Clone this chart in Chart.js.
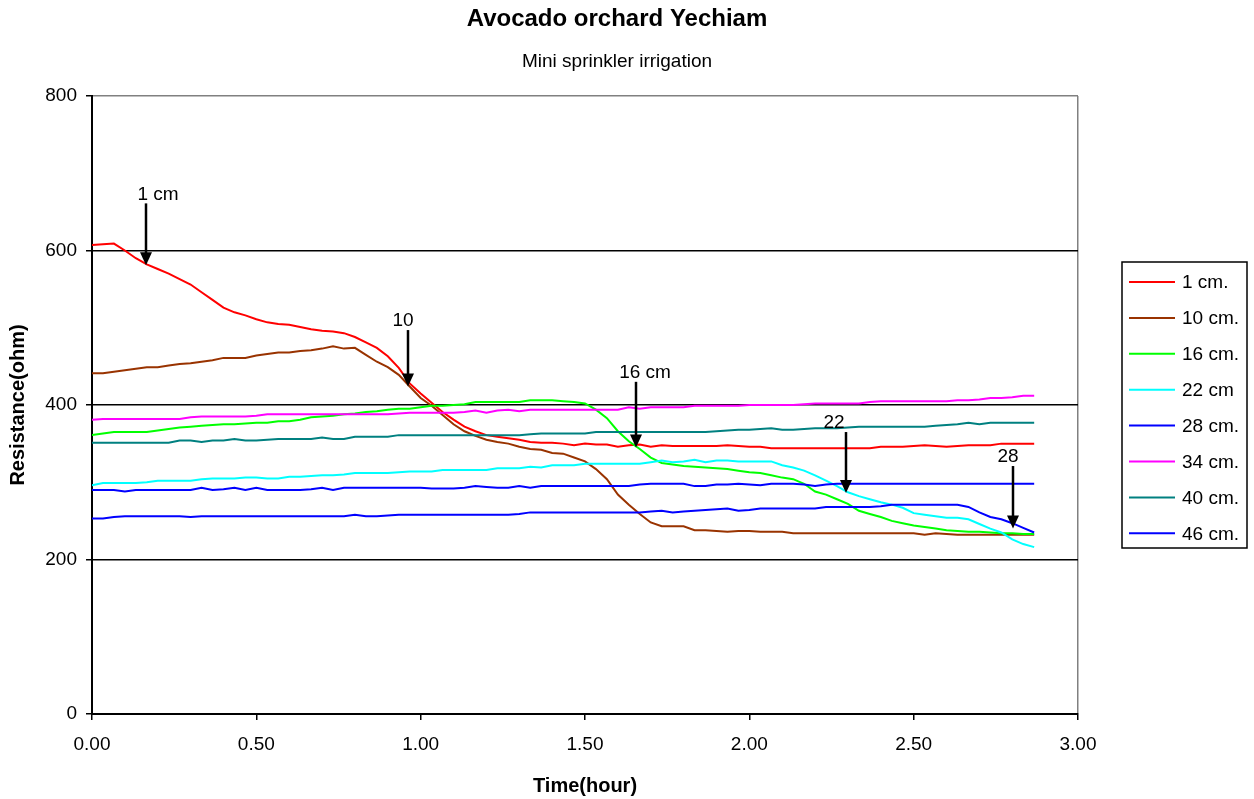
<!DOCTYPE html>
<html>
<head>
<meta charset="utf-8">
<title>Avocado orchard Yechiam</title>
<script src="https://cdn.jsdelivr.net/npm/chart.js@4.4.1/dist/chart.umd.min.js"></script>
<style>
  html, body { margin: 0; padding: 0; background: #fff; }
  #wrap { width: 1254px; height: 799px; }
</style>
</head>
<body>
<div id="wrap"><canvas id="chart" width="1254" height="799"></canvas></div>
<script>
// Sensor readings, one every 2 minutes
const minutes = [
  0, 2, 4, 6, 8, 10, 12, 14, 16, 18,
  20, 22, 24, 26, 28, 30, 32, 34, 36, 38,
  40, 42, 44, 46, 48, 50, 52, 54, 56, 58,
  60, 62, 64, 66, 68, 70, 72, 74, 76, 78,
  80, 82, 84, 86, 88, 90, 92, 94, 96, 98,
  100, 102, 104, 106, 108, 110, 112, 114, 116, 118,
  120, 122, 124, 126, 128, 130, 132, 134, 136, 138,
  140, 142, 144, 146, 148, 150, 152, 154, 156, 158,
  160, 162, 164, 166, 168, 170, 172
];

const depthLabels = ['1 cm.', '10 cm.', '16 cm.', '22 cm', '28 cm.', '34 cm.', '40 cm.', '46 cm.'];
const depthColors = ['#ff0000', '#993300', '#00ff00', '#00ffff', '#0000ff', '#ff00ff', '#008080', '#0000ff'];

const depth1 = [
  607, 608, 609, 600, 590, 582, 576, 570, 563, 556,
  546, 536, 526, 520, 516, 511, 507, 505, 504, 501,
  498, 496, 495, 493, 488, 481, 474, 463, 448, 428,
  415, 403, 391, 381, 372, 366, 361, 359, 357, 355,
  352, 351, 351, 350, 348, 350, 349, 349, 346, 348,
  349, 346, 348, 347, 347, 347, 347, 347, 348, 347,
  346, 346, 344, 344, 344, 344, 344, 344, 344, 344,
  344, 344, 346, 346, 346, 347, 348, 347, 346, 347,
  348, 348, 348, 350, 350, 350, 350
];
const depth10 = [
  441, 441, 443, 445, 447, 449, 449, 451, 453, 454,
  456, 458, 461, 461, 461, 464, 466, 468, 468, 470,
  471, 473, 476, 473, 474, 465, 456, 449, 439, 424,
  409, 399, 387, 375, 366, 360, 355, 352, 350, 346,
  343, 342, 338, 337, 332, 327, 317, 304, 284, 271,
  259, 248, 243, 243, 243, 238, 238, 237, 236, 237,
  237, 236, 236, 236, 234, 234, 234, 234, 234, 234,
  234, 234, 234, 234, 234, 234, 232, 234, 233, 232,
  232, 232, 232, 232, 232, 232, 232
];
const depth16 = [
  361, 363, 365, 365, 365, 365, 367, 369, 371, 372,
  373, 374, 375, 375, 376, 377, 377, 379, 379, 381,
  384, 385, 386, 388, 389, 391, 392, 394, 395, 395,
  397, 399, 399, 400, 401, 404, 404, 404, 404, 404,
  406, 406, 406, 405, 404, 402, 394, 383, 366, 353,
  343, 332, 325, 323, 321, 320, 319, 318, 317, 315,
  313, 312, 309, 306, 304, 298, 288, 284, 278, 272,
  263, 259, 255, 250, 247, 244, 242, 240, 238, 237,
  236, 236, 235, 234, 234, 233, 233
];
const depth22 = [
  296, 299, 299, 299, 299, 300, 302, 302, 302, 302,
  304, 305, 305, 305, 306, 306, 305, 305, 307, 307,
  308, 309, 309, 310, 312, 312, 312, 312, 313, 314,
  314, 314, 316, 316, 316, 316, 316, 318, 318, 318,
  320, 319, 322, 322, 322, 324, 324, 324, 324, 324,
  324, 326, 328, 326, 327, 329, 326, 328, 328, 327,
  327, 327, 327, 322, 319, 315, 309, 302, 295, 287,
  282, 278, 274, 271, 267, 260, 258, 256, 254, 254,
  252, 246, 240, 235, 226, 220, 216
];
const depth28 = [
  253, 253, 255, 256, 256, 256, 256, 256, 256, 255,
  256, 256, 256, 256, 256, 256, 256, 256, 256, 256,
  256, 256, 256, 256, 258, 256, 256, 257, 258, 258,
  258, 258, 258, 258, 258, 258, 258, 258, 258, 259,
  261, 261, 261, 261, 261, 261, 261, 261, 261, 261,
  261, 262, 263, 261, 262, 263, 264, 265, 266, 263,
  264, 266, 266, 266, 266, 266, 266, 268, 268, 268,
  268, 268, 269, 271, 271, 271, 271, 271, 271, 271,
  268, 261, 255, 252, 247, 241, 235
];
const depth34 = [
  381, 382, 382, 382, 382, 382, 382, 382, 382, 384,
  385, 385, 385, 385, 385, 386, 388, 388, 388, 388,
  388, 388, 388, 388, 388, 388, 388, 388, 389, 390,
  390, 390, 390, 390, 391, 393, 390, 393, 394, 392,
  394, 394, 394, 394, 394, 394, 394, 394, 394, 397,
  395, 397, 397, 397, 397, 399, 399, 399, 399, 399,
  400, 400, 400, 400, 400, 401, 402, 402, 402, 402,
  402, 404, 405, 405, 405, 405, 405, 405, 405, 406,
  406, 407, 409, 409, 410, 412, 412
];
const depth40 = [
  351, 351, 351, 351, 351, 351, 351, 351, 354, 354,
  352, 354, 354, 356, 354, 354, 355, 356, 356, 356,
  356, 358, 356, 356, 359, 359, 359, 359, 361, 361,
  361, 361, 361, 361, 361, 361, 361, 361, 361, 361,
  362, 363, 363, 363, 363, 363, 365, 365, 365, 365,
  365, 365, 365, 365, 365, 365, 365, 366, 367, 368,
  368, 369, 370, 368, 368, 369, 370, 370, 370, 371,
  372, 372, 372, 372, 372, 372, 372, 373, 374, 375,
  377, 375, 377, 377, 377, 377, 377
];
const depth46 = [
  290, 290, 290, 288, 290, 290, 290, 290, 290, 290,
  293, 290, 291, 293, 290, 293, 290, 290, 290, 290,
  291, 293, 290, 293, 293, 293, 293, 293, 293, 293,
  293, 292, 292, 292, 293, 295, 294, 293, 293, 295,
  293, 295, 295, 295, 295, 295, 295, 295, 295, 295,
  297, 298, 298, 298, 298, 295, 295, 297, 297, 298,
  297, 296, 298, 298, 298, 297, 295, 297, 298, 298,
  298, 298, 298, 298, 298, 298, 298, 298, 298, 298,
  298, 298, 298, 298, 298, 298, 298
];

// Wetting front arrows: time (h), arrow top and tip (ohm)
const arrowLabels = ['1 cm', '10', '16 cm', '22', '28'];
const arrowTimes = [0.164, 0.96, 1.654, 2.294, 2.803];
const arrowTops = [661, 497, 430, 365, 321];
const arrowTips = [581, 424, 345, 286, 240];

const xTicks = [0, 0.5, 1, 1.5, 2, 2.5, 3];
const yTicks = [0, 200, 400, 600, 800];

const allDepths = [depth1, depth10, depth16, depth22, depth28, depth34, depth40, depth46];

const FONT = '"Liberation Sans", Arial, sans-serif';
Chart.defaults.font.family = FONT;
Chart.defaults.color = '#000';

// label shift (px) of each arrow caption relative to its shaft
const captionShift = [12, -5, 9, -12, -5];

const arrowPlugin = {
  id: 'arrows',
  afterDatasetsDraw(chart) {
    const { ctx, scales: { x, y } } = chart;
    ctx.save();
    ctx.strokeStyle = '#000';
    ctx.fillStyle = '#000';
    ctx.lineWidth = 2.5;
    ctx.font = '19px ' + FONT;
    ctx.textAlign = 'center';
    ctx.textBaseline = 'middle';
    arrowLabels.forEach((label, i) => {
      const px = Math.round(x.getPixelForValue(arrowTimes[i]));
      const top = y.getPixelForValue(arrowTops[i]);
      const tip = y.getPixelForValue(arrowTips[i]);
      ctx.beginPath();
      ctx.moveTo(px, top);
      ctx.lineTo(px, tip - 10);
      ctx.stroke();
      ctx.beginPath();
      ctx.moveTo(px, tip);
      ctx.lineTo(px - 6, tip - 13);
      ctx.lineTo(px + 6, tip - 13);
      ctx.closePath();
      ctx.fill();
      ctx.fillText(label, px + captionShift[i], top - 9);
    });
    ctx.restore();
  }
};

const titlePlugin = {
  id: 'titles',
  afterDraw(chart) {
    const { ctx } = chart;
    ctx.save();
    ctx.fillStyle = '#000';
    ctx.textAlign = 'center';
    ctx.textBaseline = 'middle';
    ctx.font = 'bold 24px ' + FONT;
    ctx.fillText('Avocado orchard Yechiam', 617, 19);
    ctx.font = '19px ' + FONT;
    ctx.fillText('Mini sprinkler irrigation', 617, 62);
    ctx.restore();
  }
};

const legendPlugin = {
  id: 'boxLegend',
  afterDraw(chart) {
    const { ctx, chartArea } = chart;
    const left = chartArea.right + 44;
    const top = 262;
    const w = 125, h = 286, step = 35.9;
    ctx.save();
    ctx.strokeStyle = '#000';
    ctx.lineWidth = 1.5;
    ctx.strokeRect(left, top, w, h);
    ctx.font = '19px ' + FONT;
    ctx.textBaseline = 'middle';
    ctx.textAlign = 'left';
    chart.data.datasets.forEach((ds, i) => {
      const cy = top + 20 + i * step;
      ctx.strokeStyle = ds.borderColor;
      ctx.lineWidth = 2;
      ctx.beginPath();
      ctx.moveTo(left + 7, cy);
      ctx.lineTo(left + 53, cy);
      ctx.stroke();
      ctx.fillStyle = '#000';
      ctx.fillText(ds.label, left + 60, cy + 1);
    });
    ctx.restore();
  }
};

new Chart(document.getElementById('chart'), {
  type: 'line',
  data: {
    datasets: allDepths.map((values, i) => ({
      label: depthLabels[i],
      data: values.map((v, j) => ({ x: minutes[j] / 60, y: v })),
      borderColor: depthColors[i],
      borderWidth: 2,
      pointRadius: 0,
      tension: 0,
      fill: false,
      order: allDepths.length - i
    }))
  },
  options: {
    responsive: false,
    devicePixelRatio: 1,
    animation: false,
    layout: { padding: { top: 96, right: 176, bottom: 0, left: 0 } },
    plugins: {
      legend: { display: false },
      tooltip: { enabled: false }
    },
    scales: {
      x: {
        type: 'linear',
        min: 0,
        max: 3,
        afterFit: scale => { scale.height = 85; },
        afterBuildTicks: scale => { scale.ticks = xTicks.map(v => ({ value: v })); },
        ticks: {
          padding: 13,
          font: { size: 19 },
          callback: v => Number(v).toFixed(2)
        },
        grid: {
          color: c => (c.tick && c.tick.value === 3 ? '#808080' : 'rgba(0,0,0,0)'),
          tickColor: '#000',
          tickLength: 6,
          lineWidth: 1.5
        },
        border: { color: '#000', width: 2 },
        title: {
          display: true,
          text: 'Time(hour)',
          font: { size: 20, weight: 'bold' },
          padding: { top: 0, bottom: 1 }
        }
      },
      y: {
        min: 0,
        max: 800,
        afterFit: scale => { scale.width = 92; },
        afterBuildTicks: scale => { scale.ticks = yTicks.map(v => ({ value: v })); },
        ticks: {
          padding: 9,
          font: { size: 19 }
        },
        grid: {
          color: c => (c.tick && c.tick.value === 800 ? '#808080' : '#000'),
          tickColor: '#000',
          tickLength: 6,
          lineWidth: 1.5
        },
        border: { color: '#000', width: 2 },
        title: {
          display: true,
          text: 'Resistance(ohm)',
          font: { size: 20, weight: 'bold' },
          padding: { top: 6, bottom: 0 }
        }
      }
    }
  },
  plugins: [arrowPlugin, titlePlugin, legendPlugin]
});
</script>
</body>
</html>
